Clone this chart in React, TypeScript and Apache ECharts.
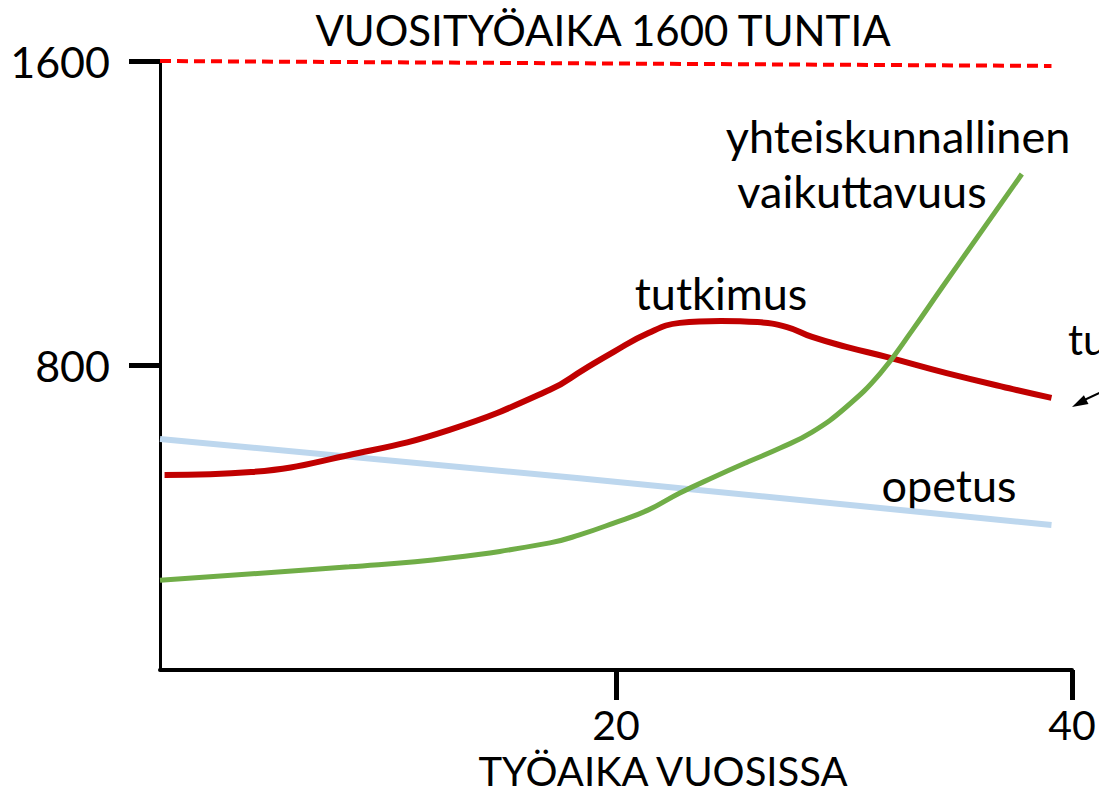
import React, { useEffect, useRef } from "react";
import * as echarts from "echarts";

// Annual working time 1600 h, split over a 40-year career
const yTickValues = [800, 1600];
const xTickValues = [20, 40];

const capYears = [0, 39.1];
const capHours = [1600, 1587];

const tutkimusYears = [0.2, 4, 8.3, 12.7, 17.1, 18.6, 19.9, 21.4, 22.8, 24.6, 26.2, 27.5, 28.6, 30.1, 31.9, 34.5, 37.4, 39.1];
const tutkimusHours = [512, 520, 565, 631, 736, 790, 836, 885, 912, 917, 914, 901, 875, 849, 822, 780, 738, 715];

const vaikuttavuusYears = [0, 8.3, 12.7, 17.1, 18.4, 19.9, 21.4, 22.8, 24.3, 25.8, 27.2, 28.6, 30.1, 31.6, 33.0, 34.3, 37.8];
const vaikuttavuusHours = [236, 271, 294, 334, 355, 386, 420, 465, 507, 547, 583, 625, 691, 780, 893, 1005, 1303];

const opetusYears = [0, 18.4, 39.1];
const opetusHours = [607, 504, 381];

const pairs = (xs: number[], ys: number[]) => xs.map((x, i) => [x, ys[i]]);

const FONT = "Lato, 'Open Sans', sans-serif";

export default function App() {
  const ref = useRef<HTMLDivElement>(null);
  useEffect(() => {
    document.body.style.margin = "0";
    document.body.style.overflow = "hidden";
    const chart = echarts.init(ref.current!, undefined, { renderer: "svg" });
    const textStyle = (size: number) => ({ fontFamily: FONT, fontSize: size, fill: "#000", lineHeight: size });
    chart.setOption({
      animation: false,
      backgroundColor: "#fff",
      grid: { left: 160, right: 27, top: 61, bottom: 124, containLabel: false },
      xAxis: {
        type: "value",
        min: 0,
        max: 40,
        splitLine: { show: false },
        axisLine: { show: true, lineStyle: { color: "#000", width: 4 } },
        axisTick: { show: true, length: 30, customValues: xTickValues, lineStyle: { color: "#000", width: 5 } },
        axisLabel: { customValues: xTickValues, color: "#000", fontFamily: FONT, fontSize: 41, lineHeight: 38, margin: 35, formatter: (v: number) => String(v) },
      },
      yAxis: {
        type: "value",
        min: 0,
        max: 1600,
        splitLine: { show: false },
        axisLine: { show: true, lineStyle: { color: "#000", width: 3 } },
        axisTick: { show: true, length: 31, customValues: yTickValues, lineStyle: { color: "#000", width: 5 } },
        axisLabel: { customValues: yTickValues, color: "#000", fontFamily: FONT, fontSize: 43, margin: 50, formatter: (v: number) => String(v) },
      },
      series: [
        {
          name: "1600",
          type: "line",
          data: pairs(capYears, capHours),
          showSymbol: false,
          lineStyle: { color: "#ff0000", width: 4, type: [11, 6] },
        },
        {
          name: "opetus",
          type: "line",
          data: pairs(opetusYears, opetusHours),
          showSymbol: false,
          lineStyle: { color: "#bdd7ee", width: 6 },
        },
        {
          name: "tutkimus",
          type: "line",
          data: pairs(tutkimusYears, tutkimusHours),
          showSymbol: false,
          smooth: 0.45,
          lineStyle: { color: "#c00000", width: 6 },
        },
        {
          name: "yhteiskunnallinen vaikuttavuus",
          type: "line",
          data: pairs(vaikuttavuusYears, vaikuttavuusHours),
          showSymbol: false,
          smooth: 0.45,
          lineStyle: { color: "#70ad47", width: 5 },
        },
      ],
      graphic: [
        { type: "text", x: 603, y: 30, style: { ...textStyle(42), text: "VUOSITYÖAIKA 1600 TUNTIA", textAlign: "center", textVerticalAlign: "middle" } },
        { type: "text", x: 898, y: 136, style: { ...textStyle(45), text: "yhteiskunnallinen", textAlign: "center", textVerticalAlign: "middle" } },
        { type: "text", x: 862, y: 191, style: { ...textStyle(45), text: "vaikuttavuus", textAlign: "center", textVerticalAlign: "middle" } },
        { type: "text", x: 721, y: 293, style: { ...textStyle(45), text: "tutkimus", textAlign: "center", textVerticalAlign: "middle" } },
        { type: "text", x: 949, y: 485, style: { ...textStyle(45), text: "opetus", textAlign: "center", textVerticalAlign: "middle" } },
        { type: "text", x: 1068, y: 339, style: { ...textStyle(42), text: "tu", textAlign: "left", textVerticalAlign: "middle" } },
        { type: "text", x: 663, y: 771, style: { ...textStyle(40), lineHeight: 38, text: "TYÖAIKA VUOSISSA", textAlign: "center", textVerticalAlign: "middle" } },
        { type: "line", shape: { x1: 1110, y1: 388, x2: 1080, y2: 402 }, style: { stroke: "#000", lineWidth: 2 } },
        { type: "polygon", shape: { points: [[1072, 407], [1088.5, 404], [1083.9, 395.2]] }, style: { fill: "#000" } },
      ],
    });
    return () => chart.dispose();
  }, []);
  return <div ref={ref} style={{ width: 1099, height: 794 }} />;
}
